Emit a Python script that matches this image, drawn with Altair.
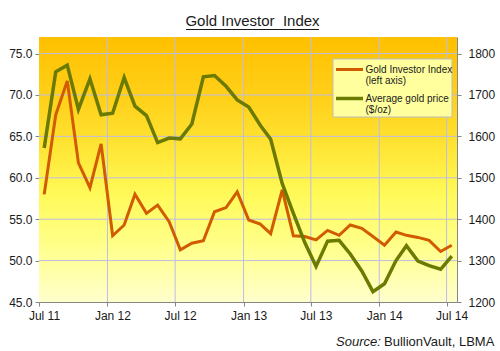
import altair as alt
import pandas as pd

# Monthly observations (plotted mid-month)
months = [
    "2011-07", "2011-08", "2011-09", "2011-10", "2011-11", "2011-12",
    "2012-01", "2012-02", "2012-03", "2012-04", "2012-05", "2012-06",
    "2012-07", "2012-08", "2012-09", "2012-10", "2012-11", "2012-12",
    "2013-01", "2013-02", "2013-03", "2013-04", "2013-05", "2013-06",
    "2013-07", "2013-08", "2013-09", "2013-10", "2013-11", "2013-12",
    "2014-01", "2014-02", "2014-03", "2014-04", "2014-05", "2014-06",
    "2014-07",
]
gold_investor_index = [
    58.0, 67.6, 71.7, 61.8, 58.8, 64.1,
    53.0, 54.3, 58.0, 55.7, 56.7, 54.7,
    51.3, 52.1, 52.4, 55.9, 56.4, 58.3,
    54.9, 54.4, 53.25, 58.55, 53.0, 52.9,
    52.5, 53.65, 53.05, 54.3, 53.9, 52.9,
    51.85, 53.45, 53.05, 52.8, 52.45, 51.1,
    51.85,
]
avg_gold_price = [
    1572, 1756, 1772, 1665, 1739, 1652,
    1656, 1742, 1673, 1650, 1585, 1596,
    1594, 1630, 1744, 1747, 1721, 1688,
    1671, 1627, 1593, 1486, 1414, 1343,
    1286, 1347, 1349, 1316, 1275, 1225,
    1244, 1300, 1336, 1299, 1288, 1279,
    1311,
]
left_ticks = [45, 50, 55, 60, 65, 70, 75]
right_ticks = [1200, 1300, 1400, 1500, 1600, 1700, 1800]
x_tick_months = ["2011-07", "2012-01", "2012-07", "2013-01", "2013-07", "2014-01", "2014-07"]

df = pd.DataFrame({
    "date": [m + "-15" for m in months],
    "gii": gold_investor_index,
    "price": avg_gold_price,
})

FONT = "Liberation Sans"
W, H = 418, 265
GRID = "#BDBDE3"


def make_xscale():
    return alt.Scale(
        type="utc",
        domain=[alt.DateTime(year=2011, month=7, date=1, utc=True),
                alt.DateTime(year=2014, month=7, date=29, utc=True)],
    )


def make_xaxis():
    return alt.Axis(
        title=None,
        values=[alt.DateTime(year=int(m[:4]), month=int(m[5:]), date=1, utc=True)
                for m in x_tick_months],
        format="%b %y",
        labelOffset=5,
        labelPadding=4,
        labelFlush=False,
        labelOverlap=False,
        tickSize=4,
        grid=False,
    )


left_scale = alt.Scale(domain=[45, 77], nice=False, zero=False)
right_scale = alt.Scale(domain=[1200, 1840], nice=False, zero=False)

one = pd.DataFrame({"k": [0]})

grad = alt.LinearGradient(
    gradient="linear", x1=0, y1=0, x2=0, y2=1,
    stops=[
        alt.GradientStop(offset=0, color="#FFC000"),
        alt.GradientStop(offset=0.25, color="#FFD21C"),
        alt.GradientStop(offset=0.45, color="#FFE93A"),
        alt.GradientStop(offset=0.6, color="#FFFA5A"),
        alt.GradientStop(offset=0.78, color="#FFFF88"),
        alt.GradientStop(offset=1, color="#FFFFCC"),
    ],
)
background = alt.Chart(one).mark_rect(color=grad).encode(
    x=alt.value(0), x2=alt.value(W), y=alt.value(0), y2=alt.value(H)
)

xgrid = alt.Chart(pd.DataFrame({"date": [m + "-01" for m in x_tick_months[1:]]})).mark_rule(
    color=GRID, strokeWidth=1
).encode(x=alt.X("date:T", scale=make_xscale(), axis=make_xaxis()))

ygrid = alt.Chart(pd.DataFrame({"v": left_ticks[1:]})).mark_rule(
    color=GRID, strokeWidth=1
).encode(y=alt.Y("v:Q", scale=left_scale, axis=None))

base = alt.Chart(df).encode(x=alt.X("date:T", scale=make_xscale(), axis=make_xaxis()))

orange = base.mark_line(color="#D15B00", strokeWidth=3).encode(
    y=alt.Y(
        "gii:Q", scale=left_scale,
        axis=alt.Axis(title=None, orient="left", values=left_ticks, format=".1f",
                      grid=False, tickSize=4, labelPadding=3),
    )
)
green = base.mark_line(color="#6B7A00", strokeWidth=3.5).encode(
    y=alt.Y(
        "price:Q", scale=right_scale,
        axis=alt.Axis(title=None, orient="right", values=right_ticks, format="d",
                      grid=False, tickSize=4, labelPadding=7),
    )
)

title_text = alt.Chart(one).mark_text(
    text="Gold Investor\u00a0 Index", font=FONT, fontSize=15, align="center",
    baseline="alphabetic", color="#1a1a1a",
).encode(x=alt.value(213.5), y=alt.value(-11))
title_line = alt.Chart(one).mark_rule(color="#1a1a1a", strokeWidth=1).encode(
    x=alt.value(147), x2=alt.value(280), y=alt.value(-7.5)
)

legend_box = alt.Chart(one).mark_rect(
    fill="#FFFF9E", stroke="#BEBEBE", strokeWidth=1
).encode(x=alt.value(294), x2=alt.value(413), y=alt.value(22), y2=alt.value(80))
leg_l1 = alt.Chart(one).mark_rule(color="#D15B00", strokeWidth=3).encode(
    x=alt.value(297), x2=alt.value(324), y=alt.value(32.5)
)
leg_l2 = alt.Chart(one).mark_rule(color="#6B7A00", strokeWidth=3.5).encode(
    x=alt.value(297), x2=alt.value(324), y=alt.value(61.5)
)


def ltext(t, x, y, size=10, style="normal"):
    return alt.Chart(one).mark_text(
        text=t, font=FONT, fontSize=size, align="left", baseline="middle",
        color="#1a1a1a", fontStyle=style,
    ).encode(x=alt.value(x), y=alt.value(y))


legend_texts = [
    ltext("Gold Investor Index", 326.5, 32.5),
    ltext("(left axis)", 326.5, 43.5),
    ltext("Average gold price", 326.5, 62),
    ltext("($/oz)", 326.5, 73),
]
source1 = ltext("Source:", 297, 305, size=13, style="italic")
source2 = ltext("BullionVault, LBMA", 345, 305, size=13)

chart = alt.layer(
    background, xgrid, ygrid, orange, green, title_text, title_line,
    legend_box, leg_l1, leg_l2, *legend_texts, source1, source2,
).resolve_scale(y="independent").properties(
    width=W, height=H,
    autosize=alt.AutoSizeParams(type="none"),
    padding={"left": 39, "top": 37, "right": 43, "bottom": 49},
    background="white",
).configure_view(
    strokeWidth=0
).configure_axis(
    labelFont=FONT, labelFontSize=12, labelColor="#1a1a1a",
    domainColor="#868686", tickColor="#868686",
    domainWidth=1,
)

chart.save("out.html", embed_options={"renderer": "svg", "actions": False})
